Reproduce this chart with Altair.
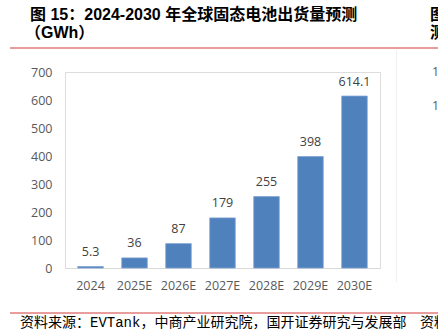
import altair as alt
import pandas as pd

years = ["2024", "2025E", "2026E", "2027E", "2028E", "2029E", "2030E"]
values = [5.3, 36, 87, 179, 255, 398, 614.1]
labels = ["5.3", "36", "87", "179", "255", "398", "614.1"]
y_ticks = [0, 100, 200, 300, 400, 500, 600, 700]

title_line1 = "图 15：2024-2030 年全球固态电池出货量预测"
title_line2 = "（GWh）"
source_text = "资料来源：EVTank，中商产业研究院，国开证券研究与发展部"

df = pd.DataFrame({"year": years, "value": values, "label": labels})

W, H = 315, 196
L, T = 65, 72

x_axis = alt.Axis(title=None, labelAngle=0, ticks=False, domain=True,
                  domainColor="#D9D9D9", domainWidth=1,
                  labelColor="#595959", labelFontSize=12.5,
                  labelFont="Open Sans", labelPadding=11, labelOverlap=False)
y_axis = alt.Axis(title=None, values=y_ticks, grid=False, ticks=False,
                  domain=False, labelColor="#595959", labelFontSize=12.5,
                  labelFont="Open Sans", labelPadding=13, labelOverlap=False,
                  labelFlush=False)
x_enc = alt.X("year:N", sort=years,
              scale=alt.Scale(paddingInner=0.42, paddingOuter=0.29), axis=x_axis)
y_enc = alt.Y("value:Q", scale=alt.Scale(domain=[0, 700], nice=False), axis=y_axis)

base = alt.Chart(df)

bars = base.mark_bar(color="#4F81BD", stroke="#7DA2D1", strokeWidth=0.8).encode(
    x=x_enc, y=y_enc)

text = base.mark_text(baseline="middle", dy=-14.5, color="#404040",
                      fontSize=12.5, font="Open Sans").encode(
    x=x_enc, y=y_enc, text="label:N")

blank = alt.Data(values=[{}])

def note(txt, x, y, size=12, weight="normal", color="#000000",
         font="Liberation Sans, Noto Sans CJK SC", align="left"):
    return alt.Chart(blank).mark_text(
        align=align, baseline="middle", fontSize=size, fontWeight=weight,
        color=color, font=font).encode(
        x=alt.value(x - L), y=alt.value(y - T), text=alt.value(txt))

def hline(x1, x2, y, color="#D33A3A"):
    return alt.Chart(blank).mark_rule(color=color, strokeWidth=1).encode(
        x=alt.value(x1 - L), x2=alt.value(x2 - L), y=alt.value(y - T))

def vline(x, y1, y2, color="#F0F0F0"):
    return alt.Chart(blank).mark_rule(color=color, strokeWidth=1).encode(
        x=alt.value(x - L), y=alt.value(y1 - T), y2=alt.value(y2 - T))

layers = [
    vline(396.5, 50, 282),
    bars, text,
    note(title_line1, 30, 15, size=16, weight="bold"),
    note(title_line2, 25, 33, size=16, weight="bold"),
    note("图", 430, 15, size=16, weight="bold"),
    note("测", 430, 33, size=16, weight="bold"),
    hline(10, 438, 48),
    note("1", 432, 72, size=12.5, color="#595959", font="Open Sans"),
    note("1", 432, 106, size=12.5, color="#595959", font="Open Sans"),
    hline(10, 438, 313),
    note(source_text, 20, 323, size=14, font="Liberation Mono, Noto Sans CJK SC"),
    note("资料", 420, 323, size=14, font="Noto Sans CJK SC"),
]

chart = alt.layer(*layers).properties(
    width=W, height=H,
    autosize=alt.AutoSizeParams(type="none"),
    padding={"left": L, "top": T, "right": 438 - L - W, "bottom": 334 - T - H},
).configure_view(strokeWidth=0, stroke="transparent").configure_axisY(
    domain=False, grid=False
).configure(background="white")

chart.save("out.html", embed_options={"renderer": "svg", "actions": False})
